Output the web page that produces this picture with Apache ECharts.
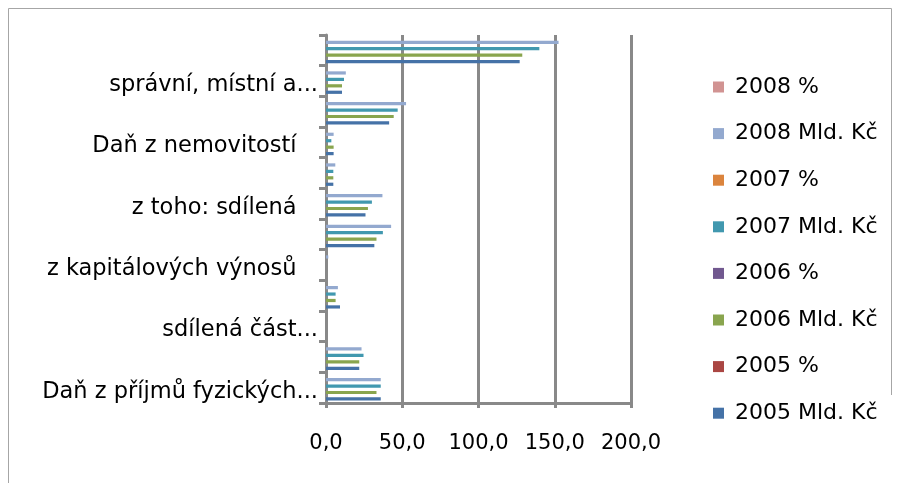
<!DOCTYPE html>
<html><head><meta charset="utf-8">
<script src="https://cdn.jsdelivr.net/npm/echarts@6/dist/echarts.min.js"></script>
<style>html,body{margin:0;padding:0;background:#fff}#c{width:899px;height:483px}</style>
</head><body><div id="c"></div>
<script>
// categories listed bottom to top
const categories = [
  "Daň z příjmů fyzických...",
  "ze závislé činnosti",
  "sdílená část...",
  "ze samostatné činnosti",
  "z kapitálových výnosů",
  "Daň z příjmů právnických osob",
  "z toho: sdílená",
  "DPH",
  "Daň z nemovitostí",
  "ostatní daně",
  "správní, místní a...",
  "Daňové příjmy celkem"
];
const seriesNames = ["2008 %", "2008 Mld. Kč", "2007 %", "2007 Mld. Kč", "2006 %", "2006 Mld. Kč", "2005 %", "2005 Mld. Kč"];
const seriesColors = ["#D19392", "#93A9CF", "#DB843D", "#4198AF", "#71588F", "#89A54E", "#AA4643", "#4572A7"];
const pct2008 = [0, 0, 0, 0, 0, 0, 0, 0, 0, 0, 0, 0];
const mld2008 = [35.9, 23.3, 0, 7.8, 1.5, 42.7, 37.0, 6.1, 5.0, 52.5, 13.0, 152.5];
const pct2007 = [0, 0, 0, 0, 0, 0, 0, 0, 0, 0, 0, 0];
const mld2007 = [35.9, 24.6, 0, 6.3, 0, 37.3, 30.1, 4.8, 3.5, 47.0, 11.8, 139.9];
const pct2006 = [0, 0, 0, 0, 0, 0, 0, 0, 0, 0, 0, 0];
const mld2006 = [33.1, 21.8, 0, 6.3, 0, 33.1, 27.5, 4.8, 5.0, 44.4, 10.5, 128.7];
const pct2005 = [0, 0, 0, 0, 0, 0, 0, 0, 0, 0, 0, 0];
const mld2005 = [35.9, 21.8, 0, 9.2, 0, 31.7, 25.9, 4.8, 5.0, 41.4, 10.5, 127.0];
const xTicks = [0, 50, 100, 150, 200];

const seriesData = [pct2008, mld2008, pct2007, mld2007, pct2006, mld2006, pct2005, mld2005];
const FONT = "DejaVu Sans";
const GRAY = "#898989";

const chart = echarts.init(document.getElementById('c'), null, {renderer: 'canvas'});
chart.setOption({
  backgroundColor: '#ffffff',
  animation: false,
  graphic: [
    {type: 'polyline', shape: {points: [[8.5, 483], [8.5, 8.5], [891.5, 8.5], [891.5, 395]]},
     style: {stroke: '#a6a6a6', lineWidth: 1, fill: null}, silent: true}
  ],
  legend: {
    orient: 'vertical',
    left: 708,
    top: 71,
    itemWidth: 11,
    itemHeight: 11,
    itemGap: 24.6,
    icon: 'rect',
    data: seriesNames,
    textStyle: {fontFamily: FONT, fontSize: 22, lineHeight: 22, color: '#000', padding: [0, 0, 0, 6]}
  },
  grid: {left: 326, right: 268, top: 35, bottom: 80, containLabel: false},
  xAxis: {
    type: 'value',
    min: xTicks[0],
    max: xTicks[xTicks.length - 1],
    interval: 50,
    axisLine: {show: true, lineStyle: {color: GRAY, width: 3}},
    axisTick: {show: true, length: 5, lineStyle: {color: GRAY, width: 3}},
    splitLine: {show: true, lineStyle: {color: GRAY, width: 3}},
    axisLabel: {
      margin: 30, color: '#000', fontFamily: FONT, fontSize: 21,
      formatter: v => v.toFixed(1).replace('.', ',')
    }
  },
  yAxis: {
    type: 'category',
    data: categories,
    axisLine: {show: true, lineStyle: {color: GRAY, width: 3}},
    axisTick: {show: true, length: 7, interval: 0, lineStyle: {color: GRAY, width: 3}},
    axisLabel: {
      interval: 1, margin: 8, color: '#000', fontFamily: FONT, fontSize: 22.5,
      formatter: v => '{a|' + (v.endsWith('...') ? v : v + '   ') + '}',
      rich: {a: {fontFamily: FONT, fontSize: 22.5, color: '#000', padding: [8, 0, 0, 0]}}
    },
    splitLine: {show: false}
  },
  series: seriesNames.map((name, i) => ({
    name: name,
    type: 'bar',
    data: seriesData[i],
    barGap: '0%',
    barCategoryGap: '16%',
    itemStyle: {color: seriesColors[i]},
    emphasis: {disabled: true}
  }))
});
</script></body></html>
